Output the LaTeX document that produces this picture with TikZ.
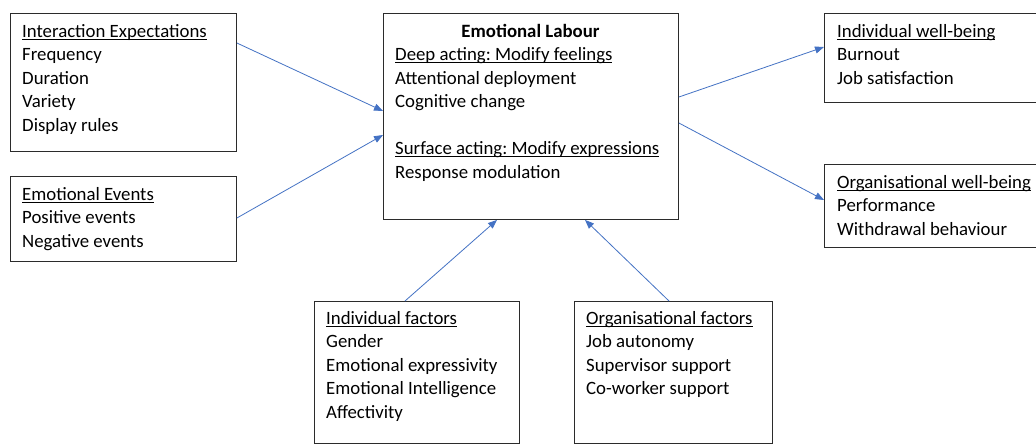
\documentclass[tikz,border=0pt]{standalone}
\usepackage{fontspec}
\setmainfont{Carlito}
\usetikzlibrary{calc,arrows.meta}
\definecolor{arrblue}{HTML}{4472C4}
\definecolor{boxline}{HTML}{2B2B2B}
\frenchspacing
\newsavebox{\ulbox}
\newcommand{\myul}[1]{\sbox{\ulbox}{#1}\rlap{\rule[-2.2pt]{\wd\ulbox}{0.7pt}}\usebox{\ulbox}}
\newcommand{\firstline}{\rule{0pt}{15pt}}
\tikzset{
  box/.style={draw=boxline, line width=0.9pt, anchor=north west, inner sep=0pt},
  txt/.style={anchor=north west, inner sep=0pt, align=left, font=\fontsize{18.8}{23.5}\selectfont},
  arr/.style={draw=arrblue, line width=0.8pt, -{Triangle[length=9pt,width=7pt]}}
}
\begin{document}
\begin{tikzpicture}[x=1pt,y=-1pt]
\useasboundingbox (0,0) rectangle (1036,445);
\clip (0,0) rectangle (1036,445);
\fill[white] (0,0) rectangle (1036,445);
% boxes
\node[box, minimum width=226pt, minimum height=138pt] (ie) at (10,13) {};
\node[box, minimum width=226pt, minimum height=85pt] (ee) at (10,176) {};
\node[box, minimum width=295pt, minimum height=206pt] (el) at (383,13) {};
\node[box, minimum width=240pt, minimum height=89pt] (iw) at (824,13) {};
\node[box, minimum width=240pt, minimum height=83pt] (ow) at (824,164) {};
\node[box, minimum width=205pt, minimum height=142pt] (if) at (314,301) {};
\node[box, minimum width=198pt, minimum height=142pt] (of) at (574,301) {};
% texts
\node[txt] (ietxt) at (22,22) {\firstline\myul{Interaction Expectations}\\Frequency\\Duration\\Variety\\Display rules};
\node[txt] (eetxt) at (22,185) {\firstline\myul{Emotional Events}\\Positive events\\Negative events};
\node[txt, anchor=north, font=\fontsize{18.8}{23.5}\selectfont\bfseries] (eltitle) at (530.5,22) {\firstline Emotional Labour};
\node[txt] (eltxt) at (395,45.5) {\firstline\myul{Deep acting: Modify feelings}\\Attentional deployment\\Cognitive change\\[23.5pt]\myul{Surface acting: Modify expressions}\\Response modulation};
\node[txt] (iwtxt) at (837,22) {\firstline\myul{Individual well-being}\\Burnout\\Job satisfaction};
\node[txt] (owtxt) at (837,173) {\firstline\myul{Organisational well-being}\\Performance\\Withdrawal behaviour};
\node[txt] (iftxt) at (326,309) {\firstline\myul{Individual factors}\\Gender\\Emotional expressivity\\Emotional Intelligence\\Affectivity};
\node[txt] (oftxt) at (586,309) {\firstline\myul{Organisational factors}\\Job autonomy\\Supervisor support\\Co-worker support};
% arrows
\draw[arr] ($(ie.north east)+(0,30)$) -- ($(el.north west)+(0,98)$);
\draw[arr] ($(ee.north east)+(0,42)$) -- ($(el.north west)+(0,122)$);
\draw[arr] ($(el.north east)+(0,84)$) -- ($(iw.north west)+(0,34)$);
\draw[arr] ($(el.north east)+(0,110)$) -- ($(ow.north west)+(0,36)$);
\draw[arr] ($(if.north west)+(91,0)$) -- ($(el.south west)+(114,0)$);
\draw[arr] ($(of.north west)+(95,0)$) -- ($(el.south west)+(202,0)$);
\end{tikzpicture}
\end{document}
